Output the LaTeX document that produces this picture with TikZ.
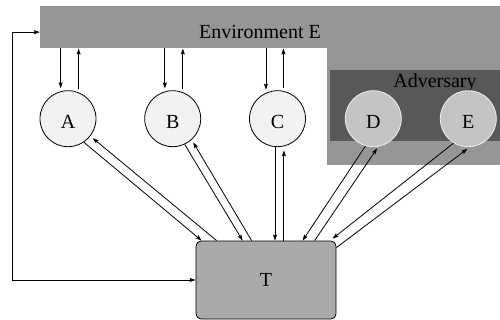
\documentclass[tikz,border=0pt]{standalone}
\usepackage{fontspec}
\setmainfont{Liberation Serif}
\usetikzlibrary{arrows.meta}
\definecolor{envgray}{RGB}{150,150,150}
\definecolor{advgray}{RGB}{88,88,88}
\definecolor{dgray}{RGB}{196,196,196}
\definecolor{tgray}{RGB}{170,170,170}
\definecolor{cfill}{RGB}{242,242,242}
\begin{document}
\begin{tikzpicture}[x=1pt,y=-1pt,
  font=\fontsize{20}{24}\selectfont,
  honest/.style={circle,draw=black,line width=0.8pt,fill=cfill,minimum size=56pt,inner sep=0pt,text height=19pt},
  corrupt/.style={circle,draw=white!75!dgray,line width=0.8pt,fill=dgray,minimum size=56pt,inner sep=0pt,text height=19pt},
  conn/.style={line width=0.8pt,-{Stealth[length=6pt,width=4pt,inset=1pt]}},
  both/.style={line width=0.8pt,{Stealth[length=6pt,width=4pt,inset=1pt]}-{Stealth[length=6pt,width=4pt,inset=1pt]}},
  plain/.style={inner sep=0pt}
]
\useasboundingbox (0,0) rectangle (500,320);
% environment
\node[plain,fill=envgray,minimum width=460pt,minimum height=42.3pt] (env) at (270,27.15) {};
\fill[envgray] (327,48.3) rectangle (500,165);
\node[plain] (envlabel) at (260,32.3) {Environment E};
% adversary
\node[plain,fill=advgray,minimum width=170pt,minimum height=70.7pt] (adv) at (415,105.35) {};
\node[plain] (advlabel) at (435,83) {Adversary};
% parties
\node[honest] (A) at (68,118.7) {A};
\node[honest] (B) at (172.7,118.7) {B};
\node[honest] (C) at (277.5,118.7) {C};
\node[corrupt] (D) at (373.3,118.7) {D};
\node[corrupt] (E) at (468.3,118.7) {E};
% trusted party
\node[draw=black,line width=0.8pt,fill=tgray,rounded corners=5pt,minimum width=140pt,minimum height=78pt] (T) at (266,280) {T};
% environment <-> parties
\draw[conn] (A.105 |- env.south) -- ([yshift=3pt]A.105);
\draw[conn] ([yshift=3pt]A.68) -- (A.68 |- env.south);
\draw[conn] (B.106 |- env.south) -- ([yshift=3pt]B.106);
\draw[conn] ([yshift=3pt]B.69) -- (B.69 |- env.south);
\draw[conn] (C.114 |- env.south) -- ([yshift=3pt]C.114);
\draw[conn] ([yshift=3pt]C.78) -- (C.78 |- env.south);
% parties <-> T
\draw[conn] (A.-56) -- ([xshift=6pt]T.north west);
\draw[conn,shorten >=3pt] ([xshift=21pt]T.north west) -- (A.-38);
\draw[conn] (B.-65) -- ([xshift=47pt]T.north west);
\draw[conn,shorten >=3pt] ([xshift=56pt]T.north west) -- (B.-48);
\draw[conn] (C.-95) -- (C.-95 |- T.north);
\draw[conn,shorten >=4pt] (C.-77 |- T.north) -- (C.-77);
\draw[conn] (D.-106) -- ([xshift=107pt]T.north west);
\draw[conn,shorten >=2pt] ([xshift=119pt]T.north west) -- (D.-80);
\draw[conn] (E.-121) -- ([xshift=137pt,yshift=2pt]T.north west);
\draw[conn,shorten >=3pt] ([yshift=-7pt]T.north east) -- (E.-87);
% T <-> environment
\draw[both] (T.west) -- ++(-183,0) |- ([yshift=-5pt]env.west);
\end{tikzpicture}
\end{document}
